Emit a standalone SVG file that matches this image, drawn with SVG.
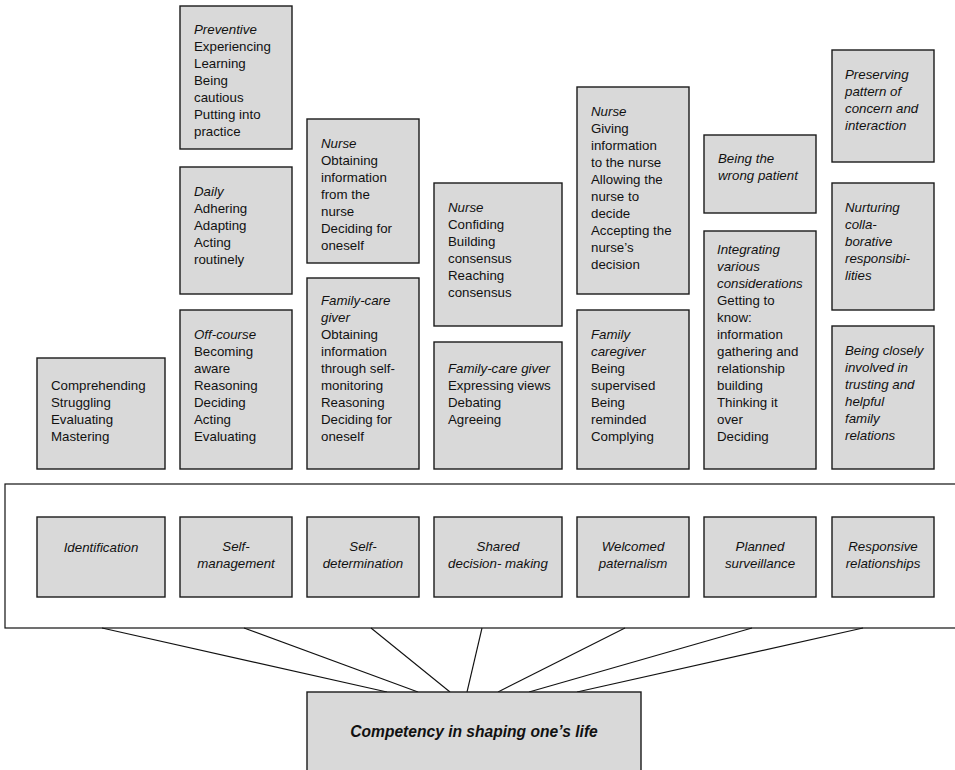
<svg xmlns="http://www.w3.org/2000/svg" width="955" height="770" viewBox="0 0 955 770">
<style>
.b{fill:#d9d9d9;stroke:#1a1a1a;stroke-width:1.4}
.t{font-family:"Liberation Sans",Arial,sans-serif;font-size:13.3px;fill:#111}
.i{font-style:italic}
.c{text-anchor:middle}
.ln{stroke:#111;stroke-width:1.1;fill:none}
</style>
<rect width="955" height="770" fill="#fff"/>
<g id="frame"><rect x="5" y="484" width="960" height="144" fill="#fff" stroke="#111" stroke-width="1.2"/></g>

<g id="connectors">
<line class="ln" x1="102" y1="628" x2="387" y2="692"/>
<line class="ln" x1="244" y1="628" x2="418" y2="692"/>
<line class="ln" x1="371" y1="628" x2="450" y2="692"/>
<line class="ln" x1="482" y1="628" x2="467" y2="692"/>
<line class="ln" x1="625" y1="628" x2="498" y2="692"/>
<line class="ln" x1="752" y1="628" x2="529" y2="692"/>
<line class="ln" x1="863" y1="628" x2="577" y2="692"/>
</g>

<g id="n-comprehending"><rect class="b" x="37" y="358" width="128" height="111"/>
<text class="t" x="51" y="390">Comprehending</text><text class="t" x="51" y="407">Struggling</text><text class="t" x="51" y="424">Evaluating</text><text class="t" x="51" y="441">Mastering</text></g>

<g id="n-preventive"><rect class="b" x="180" y="6" width="112" height="143"/>
<text class="t i" x="194" y="34">Preventive</text><text class="t" x="194" y="51">Experiencing</text><text class="t" x="194" y="68">Learning</text><text class="t" x="194" y="85">Being</text><text class="t" x="194" y="102">cautious</text><text class="t" x="194" y="119">Putting into</text><text class="t" x="194" y="136">practice</text></g>

<g id="n-daily"><rect class="b" x="180" y="167" width="112" height="127"/>
<text class="t i" x="194" y="196">Daily</text><text class="t" x="194" y="213">Adhering</text><text class="t" x="194" y="230">Adapting</text><text class="t" x="194" y="247">Acting</text><text class="t" x="194" y="264">routinely</text></g>

<g id="n-offcourse"><rect class="b" x="180" y="310" width="112" height="159"/>
<text class="t i" x="194" y="339">Off-course</text><text class="t" x="194" y="356">Becoming</text><text class="t" x="194" y="373">aware</text><text class="t" x="194" y="390">Reasoning</text><text class="t" x="194" y="407">Deciding</text><text class="t" x="194" y="424">Acting</text><text class="t" x="194" y="441">Evaluating</text></g>

<g id="n-nurse1"><rect class="b" x="307" y="119" width="112" height="144"/>
<text class="t i" x="321" y="148">Nurse</text><text class="t" x="321" y="165">Obtaining</text><text class="t" x="321" y="182">information</text><text class="t" x="321" y="199">from the</text><text class="t" x="321" y="216">nurse</text><text class="t" x="321" y="233">Deciding for</text><text class="t" x="321" y="250">oneself</text></g>

<g id="n-family1"><rect class="b" x="307" y="278" width="112" height="191"/>
<text class="t i" x="321" y="305">Family-care</text><text class="t i" x="321" y="322">giver</text><text class="t" x="321" y="339">Obtaining</text><text class="t" x="321" y="356">information</text><text class="t" x="321" y="373">through self-</text><text class="t" x="321" y="390">monitoring</text><text class="t" x="321" y="407">Reasoning</text><text class="t" x="321" y="424">Deciding for</text><text class="t" x="321" y="441">oneself</text></g>

<g id="n-nurse2"><rect class="b" x="434" y="183" width="128" height="143"/>
<text class="t i" x="448" y="212">Nurse</text><text class="t" x="448" y="229">Confiding</text><text class="t" x="448" y="246">Building</text><text class="t" x="448" y="263">consensus</text><text class="t" x="448" y="280">Reaching</text><text class="t" x="448" y="297">consensus</text></g>

<g id="n-family2"><rect class="b" x="434" y="342" width="128" height="127"/>
<text class="t i" x="448" y="373">Family-care giver</text><text class="t" x="448" y="390">Expressing views</text><text class="t" x="448" y="407">Debating</text><text class="t" x="448" y="424">Agreeing</text></g>

<g id="n-nurse3"><rect class="b" x="577" y="87" width="112" height="207"/>
<text class="t i" x="591" y="116">Nurse</text><text class="t" x="591" y="133">Giving</text><text class="t" x="591" y="150">information</text><text class="t" x="591" y="167">to the nurse</text><text class="t" x="591" y="184">Allowing the</text><text class="t" x="591" y="201">nurse to</text><text class="t" x="591" y="218">decide</text><text class="t" x="591" y="235">Accepting the</text><text class="t" x="591" y="252">nurse’s</text><text class="t" x="591" y="269">decision</text></g>

<g id="n-family3"><rect class="b" x="577" y="310" width="112" height="159"/>
<text class="t i" x="591" y="339">Family</text><text class="t i" x="591" y="356">caregiver</text><text class="t" x="591" y="373">Being</text><text class="t" x="591" y="390">supervised</text><text class="t" x="591" y="407">Being</text><text class="t" x="591" y="424">reminded</text><text class="t" x="591" y="441">Complying</text></g>

<g id="n-wrong"><rect class="b" x="704" y="135" width="112" height="78"/>
<text class="t i" x="718" y="163">Being the</text><text class="t i" x="718" y="180">wrong patient</text></g>

<g id="n-integrating"><rect class="b" x="704" y="231" width="112" height="238"/>
<text class="t i" x="717" y="254">Integrating</text><text class="t i" x="717" y="271">various</text><text class="t i" x="717" y="288">considerations</text><text class="t" x="717" y="305">Getting to</text><text class="t" x="717" y="322">know:</text><text class="t" x="717" y="339">information</text><text class="t" x="717" y="356">gathering and</text><text class="t" x="717" y="373">relationship</text><text class="t" x="717" y="390">building</text><text class="t" x="717" y="407">Thinking it</text><text class="t" x="717" y="424">over</text><text class="t" x="717" y="441">Deciding</text></g>

<g id="n-preserving"><rect class="b" x="832" y="50" width="102" height="112"/>
<text class="t i" x="845" y="79">Preserving</text><text class="t i" x="845" y="96">pattern of</text><text class="t i" x="845" y="113">concern and</text><text class="t i" x="845" y="130">interaction</text></g>

<g id="n-nurturing"><rect class="b" x="832" y="183" width="102" height="127"/>
<text class="t i" x="845" y="212">Nurturing</text><text class="t i" x="845" y="229">colla-</text><text class="t i" x="845" y="246">borative</text><text class="t i" x="845" y="263">responsibi-</text><text class="t i" x="845" y="280">lities</text></g>

<g id="n-closely"><rect class="b" x="832" y="326" width="102" height="143"/>
<text class="t i" x="845" y="355">Being closely</text><text class="t i" x="845" y="372">involved in</text><text class="t i" x="845" y="389">trusting and</text><text class="t i" x="845" y="406">helpful</text><text class="t i" x="845" y="423">family</text><text class="t i" x="845" y="440">relations</text></g>

<g id="n-identification"><rect class="b" x="37" y="517" width="128" height="80"/>
<text class="t i c" x="101" y="552">Identification</text></g>
<g id="n-selfmanagement"><rect class="b" x="180" y="517" width="112" height="80"/>
<text class="t i c" x="236" y="551">Self-</text><text class="t i c" x="236" y="568">management</text></g>
<g id="n-selfdetermination"><rect class="b" x="307" y="517" width="112" height="80"/>
<text class="t i c" x="363" y="551">Self-</text><text class="t i c" x="363" y="568">determination</text></g>
<g id="n-shared"><rect class="b" x="434" y="517" width="128" height="80"/>
<text class="t i c" x="498" y="551">Shared</text><text class="t i c" x="498" y="568">decision- making</text></g>
<g id="n-welcomed"><rect class="b" x="577" y="517" width="112" height="80"/>
<text class="t i c" x="633" y="551">Welcomed</text><text class="t i c" x="633" y="568">paternalism</text></g>
<g id="n-planned"><rect class="b" x="704" y="517" width="112" height="80"/>
<text class="t i c" x="760" y="551">Planned</text><text class="t i c" x="760" y="568">surveillance</text></g>
<g id="n-responsive"><rect class="b" x="832" y="517" width="102" height="80"/>
<text class="t i c" x="883" y="551">Responsive</text><text class="t i c" x="883" y="568">relationships</text></g>

<g id="n-competency"><rect class="b" x="307" y="692" width="334" height="100"/>
<text class="t c" x="474" y="737" style="font-size:15.6px;font-weight:bold;font-style:italic">Competency in shaping one’s life</text></g>
</svg>
